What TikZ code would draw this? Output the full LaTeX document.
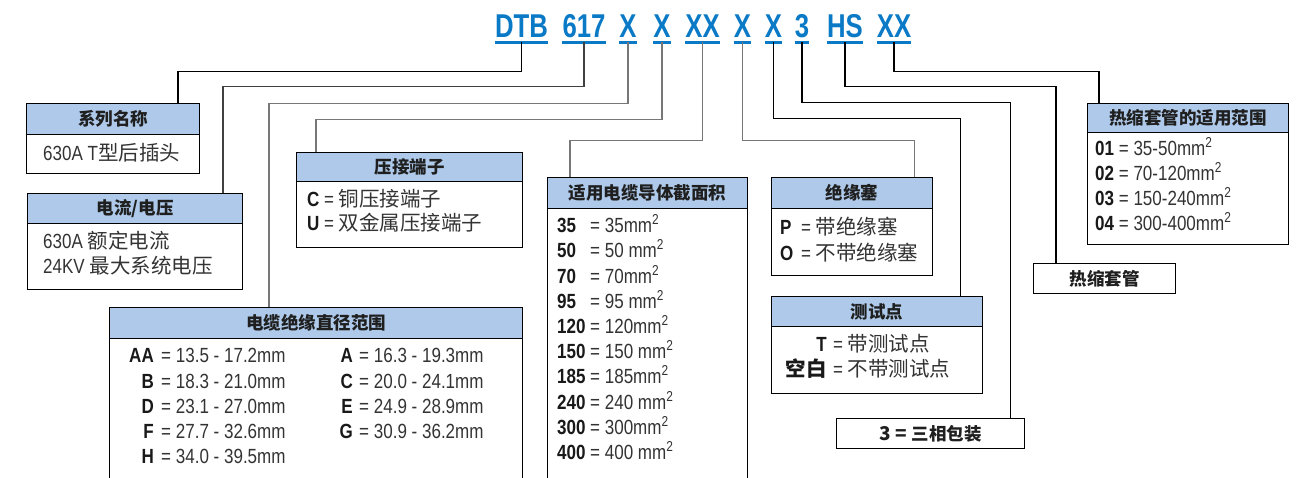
\documentclass[tikz,border=0pt]{standalone}
\usepackage{fontspec}
\setmainfont[FakeStretch=0.83]{Liberation Sans}
\newfontfamily\codef[FakeStretch=0.78]{Liberation Sans}
\newfontfamily\cjkf{Noto Sans CJK SC}
\definecolor{codeblue}{HTML}{0A7AC6}
\definecolor{hdrblue}{HTML}{AEC9E9}
\definecolor{txt}{HTML}{333333}
\definecolor{lgrey}{HTML}{777777}
\newcommand\cj[1]{{\cjkf\fontsize{20.5}{25}\selectfont #1}}
\newcommand\msq{mm\textsuperscript{2}}
\newcommand\lb[1]{\textcolor{black!90}{\textbf{#1}}}
\tikzset{
  code/.style={font=\codef\bfseries\fontsize{33}{33}\selectfont, text=codeblue,
    inner xsep=0pt, inner ysep=5pt, text depth=0pt, anchor=base},
  uline/.style={draw=codeblue, line width=3pt},
  conn/.style={draw=black, line width=1.1pt},
  gconn/.style={draw=lgrey, line width=1.1pt},
  frame/.style={draw=black, line width=1.3pt, anchor=north west, inner sep=0pt},
  hdr/.style={draw=black, line width=1.3pt, fill=hdrblue, anchor=north west, inner sep=0pt,
    font=\cjkf\bfseries\fontsize{17.5}{20}\selectfont, text=black!88},
  plainbox/.style={frame, font=\cjkf\bfseries\fontsize{17.5}{20}\selectfont, text=black!88},
  body/.style={anchor=base west, inner sep=0pt, font=\fontsize{20.5}{25}\selectfont, text=txt},
  bodyr/.style={body, anchor=base east},
}
\newcommand\mkbox[7]{%
  \node[hdr, minimum width=#4pt, minimum height=#6pt] (#1h) at (#2,#3) {#7};
  \node[frame, minimum width=#4pt, minimum height=#5pt] (#1) at (#2,#3) {};}
\begin{document}
\begin{tikzpicture}[x=1pt,y=-1pt]
\useasboundingbox (0,0) rectangle (1302,477);
\clip (0,0) rectangle (1302,477);
% code letters
\node[code] (cDTB) at (521.5,37) {DTB};
\node[code] (c617) at (584,37) {617};
\node[code] (cXa) at (628,37) {X};
\node[code] (cXb) at (662,37) {X};
\node[code] (cXX) at (702.5,37) {XX};
\node[code] (cXc) at (742.5,37) {X};
\node[code] (cXd) at (773.5,37) {X};
\node[code] (cThree) at (802,37) {3};
\node[code] (cHS) at (845,37) {HS};
\node[code] (cXXb) at (894,37) {XX};
\foreach \n in {cDTB,c617,cXa,cXb,cXX,cXc,cXd,cThree,cHS,cXXb}
  \draw[uline] (\n.south west) -- (\n.south east);
% boxes
\mkbox{bA}{26}{103}{173}{70}{31}{系列名称}
\mkbox{bB}{27}{193}{215}{96}{30}{电流/电压}
\mkbox{bC}{109}{307}{413}{200}{31}{电缆绝缘直径范围}
\mkbox{bD}{296}{152}{226}{95}{29}{压接端子}
\mkbox{bE}{547}{177}{200}{320}{31}{适用电缆导体截面积}
\mkbox{bF}{771}{177}{161}{98}{31}{绝缘塞}
\mkbox{bG}{771}{296}{211}{97}{30}{测试点}
\node[plainbox, minimum width=188pt, minimum height=30pt] (bH) at (836,418)
  {\textbf{\fontsize{19}{20}\selectfont 3 = }三相包装};
\mkbox{bI}{1087}{103}{201}{141}{29}{热缩套管的适用范围}
\node[plainbox, minimum width=142pt, minimum height=30pt] (bJ) at (1033,263) {热缩套管};
% connectors
\draw[conn]  (cDTB.south) -- ++(0,29) -| ([xshift=152pt]bA.north west);
\draw[conn,draw=black!75] (c617.south) -- ++(0,44) -| ([xshift=196pt]bB.north west);
\draw[gconn] (cXa.south) -- ++(0,61) -| ([xshift=160pt]bC.north west);
\draw[gconn] (cXb.south) -- ++(0,77) -| ([xshift=20pt]bD.north west);
\draw[gconn] (cXX.south) -- ++(0,98) -| ([xshift=23pt]bE.north west);
\draw[gconn] (cXc.south) -- ++(0,98) -| ([xshift=-19pt]bF.north east);
\draw[conn]  (cXd.south) -- ++(0,76) -| ([xshift=-23pt]bG.north east);
\draw[conn]  (cThree.south) -- ++(0,60) -| ([xshift=-15pt]bH.north east);
\draw[conn]  (cHS.south) -- ++(0,44) -| ([xshift=23pt]bJ.north west);
\draw[conn]  (cXXb.south) -- ++(0,29) -| ([xshift=12pt]bI.north west);
% box A
\node[body] (tA) at (43,160) {630A T\cj{型后插头}};
% box B
\node[body] (tB1) at (43,248) {630A \cj{额定电流}};
\node[body] (tB2) at (43,273) {24KV \cj{最大系统电压}};
% box C
\foreach \l/\v/\y/\i in {AA/13.5 - 17.2mm/362/1, B/18.3 - 21.0mm/388/2, D/23.1 - 27.0mm/413/3, F/27.7 - 32.6mm/438/4, H/34.0 - 39.5mm/463/5}{
  \node[bodyr] (cl\i) at (154,\y) {\lb{\l}};
  \node[body] (cv\i) at (161,\y) {= \v};
}
\foreach \l/\v/\y/\i in {A/16.3 - 19.3mm/362/1, C/20.0 - 24.1mm/388/2, E/24.9 - 28.9mm/413/3, G/30.9 - 36.2mm/438/4}{
  \node[bodyr] (crl\i) at (353,\y) {\lb{\l}};
  \node[body] (crv\i) at (359,\y) {= \v};
}
% box D
\node[body] (tD1) at (307,206) {\lb{C} = \cj{铜压接端子}};
\node[body] (tD2) at (307,230) {\lb{U} = \cj{双金属压接端子}};
% box E
\foreach \l/\v/\y/\i in {35/35\msq/232/1, 50/50 \msq/257/2, 70/70\msq/283/3, 95/95 \msq/308/4,
  120/120\msq/333/5, 150/150 \msq/358/6, 185/185\msq/383/7, 240/240 \msq/409/8,
  300/300\msq/434/9, 400/400 \msq/459/10}{
  \node[body] (el\i) at (557,\y) {\lb{\l}};
  \node[body] (ev\i) at (590,\y) {= \v};
}
% box F
\node[body] (fl1) at (780,234) {\lb{P}};
\node[body] (fv1) at (801,234) {= \cj{带绝缘塞}};
\node[body] (fl2) at (780,260) {\lb{O}};
\node[body] (fv2) at (801,260) {= \cj{不带绝缘塞}};
% box G
\node[bodyr] (gl1) at (827,351) {\lb{T}};
\node[body] (gv1) at (833,351) {= \cj{带测试点}};
\node[bodyr] (gl2) at (827,376) {\textcolor{black!90}{\cj{\bfseries 空白}}};
\node[body] (gv2) at (833,376) {= \cj{不带测试点}};
% box I
\node[body] (i1) at (1095,155) {\lb{01} = 35-50\msq};
\node[body] (i2) at (1095,180) {\lb{02} = 70-120\msq};
\node[body] (i3) at (1095,205) {\lb{03} = 150-240\msq};
\node[body] (i4) at (1095,230) {\lb{04} = 300-400\msq};
\end{tikzpicture}
\end{document}
